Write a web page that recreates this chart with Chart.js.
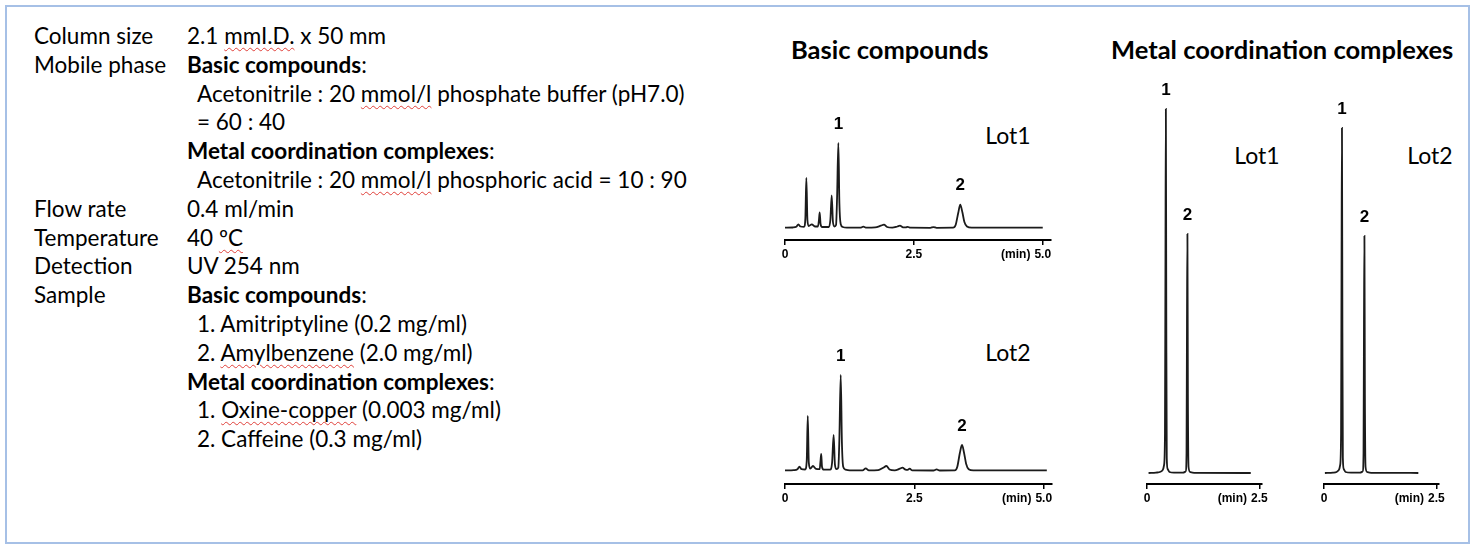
<!DOCTYPE html>
<html>
<head>
<meta charset="utf-8">
<script src="https://cdn.jsdelivr.net/npm/chart.js@4.4.0/dist/chart.umd.min.js"></script>
<style>
  html, body { margin: 0; padding: 0; background: #fff; }
  body { width: 1477px; height: 549px; position: relative; overflow: hidden; font-family: Lato, "Open Sans", sans-serif; color: #000; }
  .frame { position: absolute; left: 5px; top: 5px; width: 1465px; height: 539px; border: 2px solid #a6c0e6; box-sizing: border-box; }
  .spec { position: absolute; left: 34px; top: 22px; font-size: 22.5px; line-height: 28.8px; white-space: nowrap; }
  .row { display: flex; height: 28.8px; }
  .lbl { width: 153px; }
  .ind { padding-left: 10px; }
  .sq { text-decoration: underline wavy #e0403a; text-decoration-thickness: 1px; text-underline-offset: 3px; }
  .title { position: absolute; top: 34px; font-weight: bold; font-size: 25.5px; }
  .lot { position: absolute; font-size: 23px; transform: translate(-50%, -50%); }
  .box { position: absolute; }
</style>
</head>
<body>
<div class="frame"></div>

<div class="spec">
  <div class="row"><div class="lbl">Column size</div><div>2.1 <span class="sq">mmI.D.</span> x 50 mm</div></div>
  <div class="row"><div class="lbl">Mobile phase</div><div><b>Basic compounds</b>:</div></div>
  <div class="row"><div class="lbl"></div><div class="ind">Acetonitrile : 20 <span class="sq">mmol/l</span> phosphate buffer (pH7.0)</div></div>
  <div class="row"><div class="lbl"></div><div class="ind">= 60 : 40</div></div>
  <div class="row"><div class="lbl"></div><div><b>Metal coordination complexes</b>:</div></div>
  <div class="row"><div class="lbl"></div><div class="ind">Acetonitrile : 20 <span class="sq">mmol/l</span> phosphoric acid = 10 : 90</div></div>
  <div class="row"><div class="lbl">Flow rate</div><div>0.4 ml/min</div></div>
  <div class="row"><div class="lbl">Temperature</div><div>40 <span class="sq">ºC</span></div></div>
  <div class="row"><div class="lbl">Detection</div><div>UV 254 nm</div></div>
  <div class="row"><div class="lbl">Sample</div><div><b>Basic compounds</b>:</div></div>
  <div class="row"><div class="lbl"></div><div class="ind">1. Amitriptyline (0.2 mg/ml)</div></div>
  <div class="row"><div class="lbl"></div><div class="ind">2. <span class="sq">Amylbenzene</span> (2.0 mg/ml)</div></div>
  <div class="row"><div class="lbl"></div><div><b>Metal coordination complexes</b>:</div></div>
  <div class="row"><div class="lbl"></div><div class="ind">1. <span class="sq">Oxine-copper</span> (0.003 mg/ml)</div></div>
  <div class="row"><div class="lbl"></div><div class="ind">2. Caffeine (0.3 mg/ml)</div></div>
</div>

<div class="title" style="left:791px">Basic compounds</div>
<div class="title" style="left:1111px">Metal coordination complexes</div>

<div class="lot" style="left:1008px;top:135px">Lot1</div>
<div class="lot" style="left:1008px;top:352px">Lot2</div>
<div class="lot" style="left:1257px;top:155px">Lot1</div>
<div class="lot" style="left:1430px;top:155px">Lot2</div>

<div class="box" style="left:765px;top:100px;width:306px;height:162px"><canvas id="basic1"></canvas></div>
<div class="box" style="left:765px;top:340px;width:307px;height:166px"><canvas id="basic2"></canvas></div>
<div class="box" style="left:1127px;top:75px;width:155px;height:431px"><canvas id="metal1"></canvas></div>
<div class="box" style="left:1304px;top:75px;width:155px;height:431px"><canvas id="metal2"></canvas></div>

<script>
// Chromatograms: [time (min), detector response]
const basicLot1 = [
  [0,0.3],[0.15,0.5],[0.22,1.2],[0.26,3.7],[0.30,1.5],[0.37,1.2],[0.395,10],[0.414,50],[0.435,8],[0.46,2],
  [0.52,3.7],[0.58,1.5],[0.64,1.5],[0.66,9],[0.673,15.7],[0.69,4],[0.72,1],[0.85,1],[0.88,8],[0.906,32.7],
  [0.93,6],[0.96,1.5],[0.99,3],[1.01,30],[1.035,85],[1.055,25],[1.08,4],[1.12,1],[1.2,0.3],[1.46,0.3],
  [1.52,1.3],[1.58,0.3],[1.75,0.6],[1.86,2.3],[1.92,3.3],[1.98,1],[2.08,0.3],[2.18,1.5],[2.23,2.3],[2.29,0.7],
  [2.34,0.6],[2.38,1.2],[2.43,0.3],[2.82,0.2],[2.88,0.9],[2.94,0.2],[3.26,0.3],[3.31,3],[3.36,15],[3.40,23.3],
  [3.44,16],[3.48,6],[3.53,1.5],[3.62,0.3],[5.0,0.3]
];
const basicLot2 = [
  [0,0.3],[0.17,0.6],[0.24,1.5],[0.28,4],[0.32,1.5],[0.39,1.2],[0.42,10],[0.44,54.7],[0.46,8],[0.49,2],
  [0.54,4.7],[0.60,1.8],[0.67,1.5],[0.685,9],[0.70,16.7],[0.715,4],[0.75,1],[0.87,1],[0.91,8],[0.94,35.7],
  [0.965,6],[0.995,1.5],[1.03,3],[1.05,30],[1.077,95.7],[1.10,28],[1.125,4],[1.17,1],[1.25,0.3],[1.50,0.3],
  [1.56,2.3],[1.62,0.3],[1.80,0.6],[1.90,3],[1.96,4.7],[2.02,1.2],[2.12,0.3],[2.22,2],[2.27,3],[2.33,1],
  [2.37,0.8],[2.41,2],[2.46,0.3],[2.87,0.2],[2.93,1.3],[2.99,0.2],[3.28,0.3],[3.33,4],[3.38,18],[3.42,25.7],
  [3.46,18],[3.50,7],[3.55,1.5],[3.64,0.3],[5.06,0.3]
];
const metalLot1 = [
  [0.035,0],[0.2,0.4],[0.3,1.2],[0.35,3],[0.38,8],[0.40,40],[0.41,200],[0.42,364],[0.43,150],[0.44,15],
  [0.46,4],[0.5,1],[0.6,0.3],[0.8,0.3],[0.86,1.5],[0.88,20],[0.89,150],[0.90,239],[0.91,80],[0.925,6],
  [0.96,1],[1.05,0.2],[2.31,0]
];
const metalLot2 = [
  [0.02,0],[0.2,0.4],[0.28,1],[0.33,3],[0.36,8],[0.38,40],[0.39,200],[0.40,345],[0.41,140],[0.42,15],
  [0.44,4],[0.48,1],[0.6,0.3],[0.8,0.3],[0.86,1.5],[0.88,20],[0.89,150],[0.90,237],[0.91,80],[0.925,6],
  [0.96,1],[1.05,0.2],[1.6,0.2],[2.10,0]
];

// peak numbering
const peakNames = ['1', '2'];
const basicLot1Peaks = [1.035, 3.40];
const basicLot2Peaks = [1.077, 3.42];
const metalLot1Peaks = [0.42, 0.90];
const metalLot2Peaks = [0.40, 0.90];

// time axis ticks
const basicTicks = [0, 2.5, 5.0];
const metalTicks = [0, 2.5];
const timeUnit = '(min)';

const tickFont = { family: '"Liberation Sans", Arial, sans-serif', size: 12, weight: 'bold' };

// peak numbers above apex + "(min)" left of the last tick label
const chromPlugin = {
  id: 'chrom',
  afterDraw(chart, args, opts) {
    const { ctx, scales: { x, y } } = chart;
    const pts = chart.data.datasets[0].data;
    ctx.save();
    ctx.fillStyle = '#000';
    ctx.font = 'bold 17px "Liberation Sans", Arial, sans-serif';
    ctx.textAlign = 'center';
    ctx.textBaseline = 'middle';
    opts.peaks.forEach((t, i) => {
      const p = pts.find(d => d.x === t);
      ctx.fillText(peakNames[i], x.getPixelForValue(t), y.getPixelForValue(p.y) - 19);
    });
    const last = opts.ticks[opts.ticks.length - 1];
    ctx.font = 'bold 12px "Liberation Sans", Arial, sans-serif';
    ctx.textAlign = 'right';
    const lastW = ctx.measureText(last.toFixed(1)).width;
    ctx.fillText(timeUnit, x.getPixelForValue(last) - lastW / 2 - 4, chart.chartArea.bottom + 14.5);
    ctx.restore();
  }
};

function makeChrom(id, series, peaks, ticks, xMax, yMin, yMax) {
  return new Chart(document.getElementById(id), {
    type: 'line',
    data: {
      datasets: [{
        data: series.map(p => ({ x: p[0], y: p[1] })),
        borderColor: '#1b1b1b',
        borderWidth: 1.8,
        pointRadius: 0,
        cubicInterpolationMode: 'monotone',
        fill: false
      }]
    },
    options: {
      responsive: true,
      maintainAspectRatio: false,
      animation: false,
      layout: { padding: { left: 20, right: 20, top: 0, bottom: 0 } },
      plugins: { legend: { display: false }, tooltip: { enabled: false }, chrom: { peaks, ticks } },
      scales: {
        x: {
          type: 'linear', min: 0, max: xMax,
          afterBuildTicks: s => { s.ticks = ticks.map(v => ({ value: v })); },
          afterFit: s => { s.height = 22; },
          ticks: {
            autoSkip: false, maxRotation: 0, padding: 2, color: '#000', font: tickFont,
            callback: v => v === 0 ? '0' : v.toFixed(1)
          },
          grid: { drawOnChartArea: false, drawTicks: true, tickLength: 5, color: '#000', lineWidth: 1.5 },
          border: { display: true, color: '#000', width: 2 }
        },
        y: { display: false, min: yMin, max: yMax }
      }
    },
    plugins: [chromPlugin]
  });
}

makeChrom('basic1', basicLot1, basicLot1Peaks, basicTicks, 5.16, -12, 128);
makeChrom('basic2', basicLot2, basicLot2Peaks, basicTicks, 5.16, -13.3, 130.7);
makeChrom('metal1', metalLot1, metalLot1Peaks, metalTicks, 2.56, -11, 398);
makeChrom('metal2', metalLot2, metalLot2Peaks, metalTicks, 2.56, -11, 398);
</script>
</body>
</html>
